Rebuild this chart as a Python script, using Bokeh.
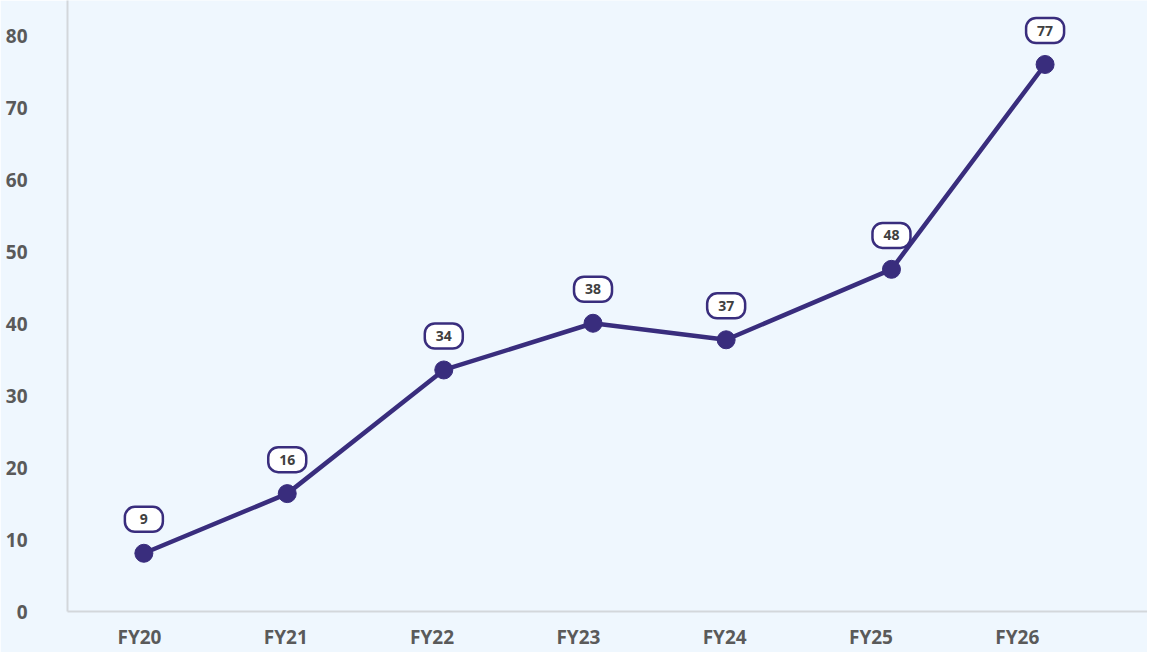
from bokeh.plotting import figure
from bokeh.models import ColumnDataSource, FixedTicker, Range1d
from bokeh.models.glyphs import Rect
from bokeh.core.properties import value
from bokeh.embed import file_html
from bokeh.resources import INLINE

# ---- data ----
categories = ["FY20", "FY21", "FY22", "FY23", "FY24", "FY25", "FY26"]
cat_pos = [0, 1, 2, 3, 4, 5, 6]
point_x = [0.03, 1.01, 2.08, 3.10, 4.01, 5.14, 6.19]
values = [8.1, 16.4, 33.6, 40.1, 37.8, 47.6, 76.1]
labels = ["9", "16", "34", "38", "37", "48", "77"]
y_ticks = [0, 10, 20, 30, 40, 50, 60, 70, 80]

LINE = "#392D7D"
BG = "#EFF7FE"
GREY = "#5A5A5A"

px_per_unit = 612 / 85.0
label_y = [v + 34 / px_per_unit for v in values]

src = ColumnDataSource(dict(x=point_x, y=values, ly=label_y, t=labels))

p = figure(width=1147, height=652, output_backend="svg", toolbar_location=None,
           x_range=Range1d(-0.492, 6.89), y_range=Range1d(0, 85),
           min_border_left=67, min_border_right=0, min_border_top=0, min_border_bottom=40)
p.background_fill_color = BG
p.border_fill_color = BG
p.outline_line_color = None
p.xgrid.grid_line_color = None
p.ygrid.grid_line_color = None

p.line("x", "y", source=src, line_color=LINE, line_width=4.5)
p.scatter("x", "y", source=src, size=18, fill_color=LINE, line_color=LINE)

rect_kw = dict(x="x", y="ly", width=38, height=25, width_units="screen", height_units="screen",
               fill_color="white", line_color=LINE, line_width=2.5)
if "border_radius" in Rect.properties():
    rect_kw["border_radius"] = 10
p.add_glyph(src, Rect(**rect_kw))
p.text("x", "ly", text="t", source=src, text_align="center", text_baseline="middle",
       text_font=value("Open Sans"), text_font_style="bold", text_font_size="14px",
       text_color="#404040")

# axes
p.xaxis.ticker = FixedTicker(ticks=cat_pos)
p.xaxis.major_label_overrides = {c: n for c, n in zip(cat_pos, categories)}
p.yaxis.ticker = FixedTicker(ticks=y_ticks)
for ax in (p.xaxis[0], p.yaxis[0]):
    ax.major_tick_line_color = None
    ax.minor_tick_line_color = None
    ax.major_tick_out = 0
    ax.major_tick_in = 0
    ax.minor_tick_out = 0
    ax.minor_tick_in = 0
    ax.axis_line_color = "#D3D7DB"
    ax.axis_line_width = 2
    ax.major_label_text_font = "Open Sans"
    ax.major_label_text_font_style = "bold"
    ax.major_label_text_font_size = "19px"
    ax.major_label_text_color = GREY
p.xaxis.major_label_standoff = 12
p.yaxis.major_label_standoff = 40

html = file_html(p, INLINE)
html = html.replace("<body>", '<body style="background-color:%s;">' % BG, 1)
open("out.html", "w").write(html)
